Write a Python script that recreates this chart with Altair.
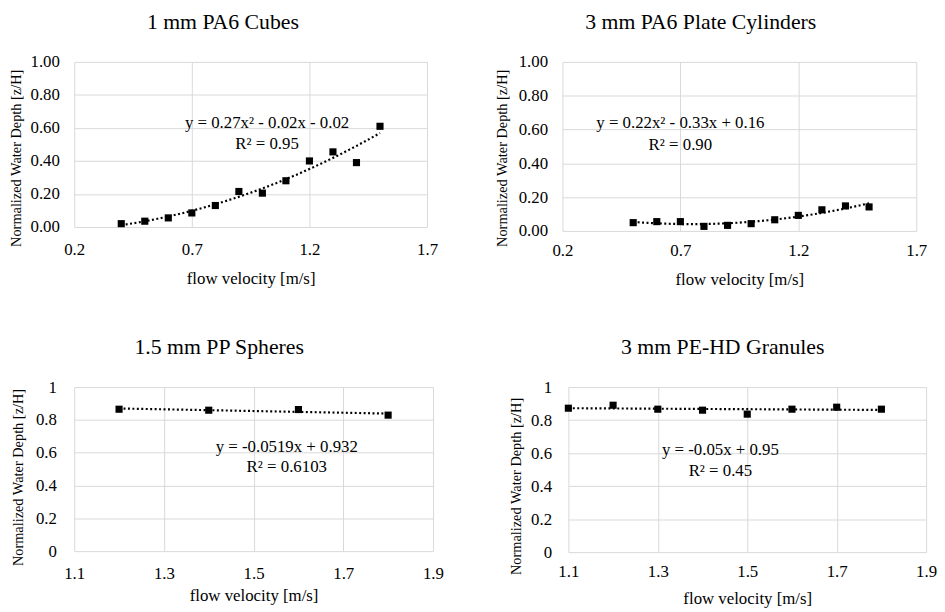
import altair as alt
import pandas as pd

FONT = "Liberation Serif, Times New Roman, Tinos, DejaVu Serif, serif"

# ---- data ----
v_cubes = [0.4, 0.5, 0.6, 0.7, 0.8, 0.9, 1.0, 1.1, 1.2, 1.3, 1.4, 1.5]
d_cubes = [0.02, 0.035, 0.055, 0.085, 0.13, 0.215, 0.205, 0.28, 0.40, 0.455, 0.39, 0.61]

v_cyl = [0.5, 0.6, 0.7, 0.8, 0.9, 1.0, 1.1, 1.2, 1.3, 1.4, 1.5]
d_cyl = [0.049, 0.055, 0.055, 0.027, 0.033, 0.043, 0.066, 0.092, 0.125, 0.148, 0.142]

v_sph = [1.2, 1.4, 1.6, 1.8]
d_sph = [0.865, 0.859, 0.863, 0.829]

v_gran = [1.1, 1.2, 1.3, 1.4, 1.5, 1.6, 1.7, 1.8]
d_gran = [0.872, 0.89, 0.866, 0.86, 0.836, 0.866, 0.878, 0.866]

titles = ["1 mm PA6 Cubes", "3 mm PA6 Plate Cylinders", "1.5 mm PP Spheres", "3 mm PE-HD Granules"]
eq_lines = [
    ["y = 0.27x\u00b2 - 0.02x - 0.02", "R\u00b2 = 0.95"],
    ["y = 0.22x\u00b2 - 0.33x + 0.16", "R\u00b2 = 0.90"],
    ["y = -0.0519x + 0.932", "R\u00b2 = 0.6103"],
    ["y = -0.05x + 0.95", "R\u00b2 = 0.45"],
]
x_ticks_top = [0.2, 0.7, 1.2, 1.7]
x_ticks_bottom = [1.1, 1.3, 1.5, 1.7, 1.9]
y_tick_count = 5
x_title = "flow velocity [m/s]"
y_title = "Normalized Water Depth [z/H]"


def panel(v, d, title, xticks, yfmt, method, eq, eqpos, w, h,
          ylabpad, ytitlepad, ytitle_y, xlabpad, xtitlepad, title_dx, title_off):
    df = pd.DataFrame({"v": v, "d": d})
    base = alt.Chart(df)
    x = alt.X("v:Q",
              scale=alt.Scale(domain=[xticks[0], xticks[-1]], nice=False, zero=False),
              axis=alt.Axis(values=xticks, format=".1f", title=x_title,
                            labelFont=FONT, labelFontSize=17, labelColor="black",
                            labelPadding=xlabpad, titlePadding=xtitlepad,
                            labelOverlap=False, labelFlush=False))
    y = alt.Y("d:Q",
              scale=alt.Scale(domain=[0, 1], nice=False),
              axis=alt.Axis(tickCount=y_tick_count, format=yfmt, title=y_title,
                            labelFont=FONT, labelFontSize=17, labelColor="black",
                            labelPadding=ylabpad, titlePadding=ytitlepad,
                            titleY=ytitle_y, labelOverlap=False, labelFlush=False))
    if method == "poly":
        reg = base.transform_regression("v", "d", method="poly", order=2)
    else:
        reg = base.transform_regression("v", "d", method="linear")
    trend = reg.mark_line(color="black", strokeDash=[2, 2.5], strokeWidth=2.2).encode(
        x=alt.X("v:Q"), y=alt.Y("d:Q"))
    pts = base.mark_point(shape="square", filled=True, size=52, color="black",
                          opacity=1).encode(x=x, y=y)
    t1 = alt.Chart().mark_text(font=FONT, fontSize=17, color="black").encode(
        x=alt.datum(eqpos[0]), y=alt.datum(eqpos[1]), text=alt.value(eq[0]))
    t2 = alt.Chart().mark_text(font=FONT, fontSize=17, color="black").encode(
        x=alt.datum(eqpos[0]), y=alt.datum(eqpos[2]), text=alt.value(eq[1]))
    return alt.layer(trend, pts, t1, t2).properties(
        width=w, height=h,
        title=alt.TitleParams(title, fontSize=22, font=FONT, fontWeight="normal",
                              anchor="middle", frame="bounds", color="black",
                              offset=title_off, dx=title_dx))


p1 = panel(v_cubes, d_cubes, titles[0], x_ticks_top, ".2f", "poly", eq_lines[0],
           (1.02, 0.63, 0.50), 357, 167, 15, 7, 97, 15, 13, 0, 19)
p2 = panel(v_cyl, d_cyl, titles[1], x_ticks_top, ".2f", "poly", eq_lines[1],
           (0.70, 0.64, 0.51), 358, 171, 15, 9, 97, 12, 13, -10, 19)
p3 = panel(v_sph, d_sph, titles[2], x_ticks_bottom, "~g", "linear", eq_lines[2],
           (1.574, 0.636, 0.51), 363, 166, 18, 10, 91, 15, 6, -8, 19)
p4 = panel(v_gran, d_gran, titles[3], x_ticks_bottom, "~g", "linear", eq_lines[3],
           (1.44, 0.617, 0.49), 362, 167, 17, 7, 100, 12, 11, 0, 19)

top = alt.hconcat(p1, p2, spacing=57)
bottom = alt.hconcat(p3, p4, spacing=65)

chart = alt.vconcat(top, bottom, spacing=50).properties(
    padding=0, background="white"
).configure(font=FONT).configure_view(stroke=None).configure_axis(
    domain=False, ticks=False, grid=True, gridColor="#d9d9d9", gridWidth=1,
    labelFont=FONT, labelFontSize=17, labelColor="black",
    titleFont=FONT, titleFontSize=17, titleFontWeight="normal", titleColor="black"
).configure_axisY(titleFontSize=14.5)

chart.save("out.html", embed_options={"renderer": "svg", "actions": False})
